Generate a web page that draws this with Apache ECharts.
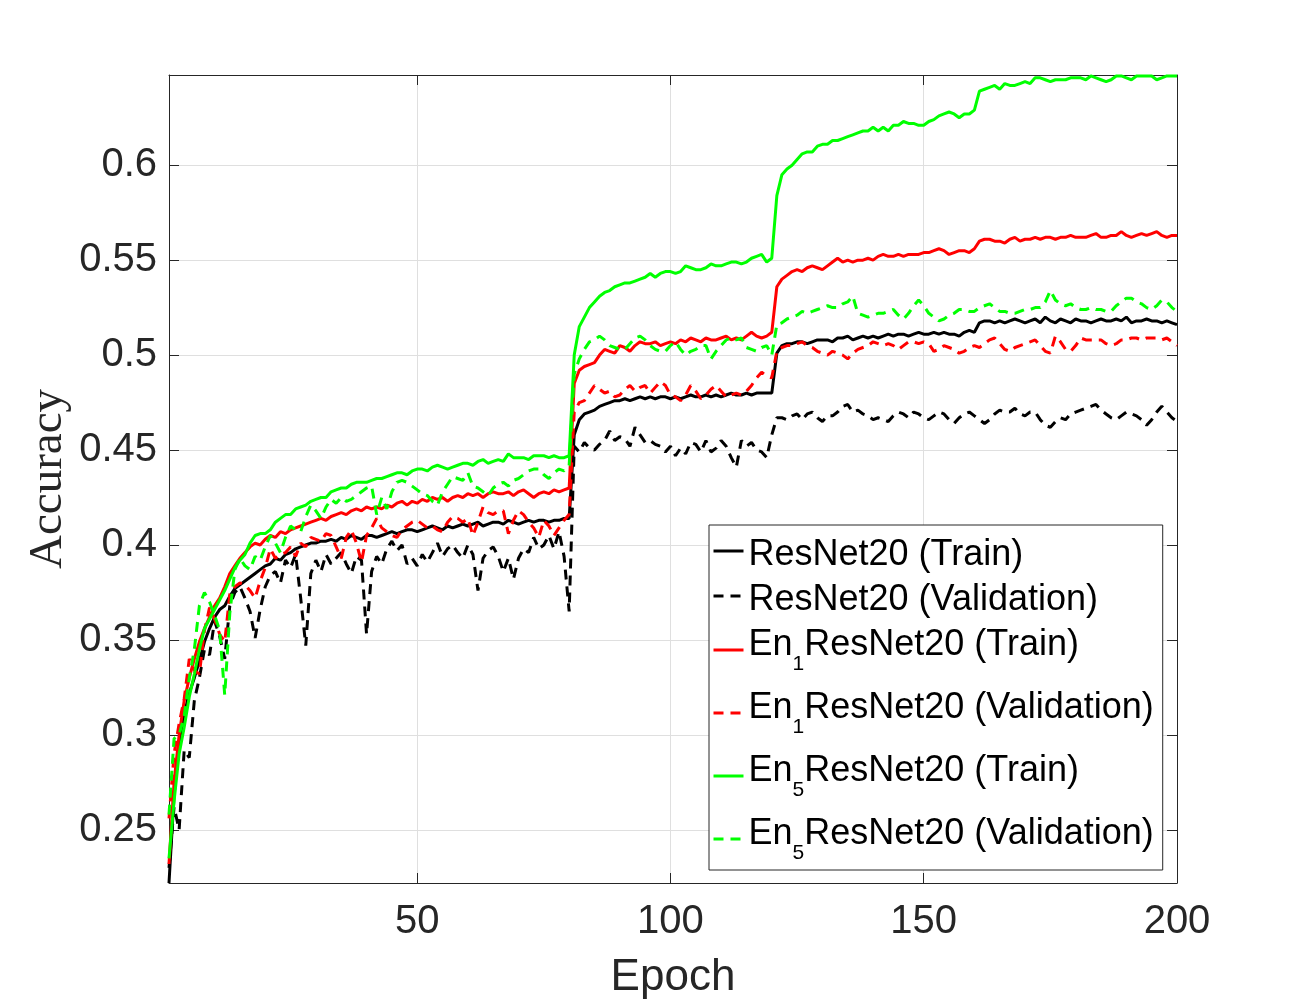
<!DOCTYPE html>
<html>
<head>
<meta charset="utf-8">
<title>Accuracy vs Epoch</title>
<script src="https://cdn.jsdelivr.net/npm/echarts@6/dist/echarts.min.js"></script>
<style>
  html, body { margin: 0; padding: 0; background: #fff; }
  #chart { width: 1300px; height: 1000px; }
</style>
</head>
<body>
<div id="chart"></div>
<script>
// accuracy per epoch (1..200)
const resnetTrain = [
  0.222,0.268,0.296,0.311,0.322,0.330,0.339,0.349,0.356,0.362,
  0.366,0.368,0.373,0.377,0.379,0.381,0.383,0.385,0.387,0.389,
  0.390,0.393,0.392,0.395,0.396,0.398,0.399,0.400,0.401,0.401,
  0.402,0.402,0.403,0.402,0.404,0.403,0.405,0.404,0.403,0.405,
  0.405,0.404,0.405,0.406,0.407,0.406,0.407,0.408,0.408,0.407,
  0.408,0.409,0.410,0.409,0.408,0.410,0.409,0.410,0.411,0.410,
  0.411,0.412,0.410,0.411,0.412,0.412,0.411,0.413,0.412,0.411,
  0.412,0.413,0.412,0.413,0.413,0.412,0.413,0.413,0.414,0.414,
  0.458,0.466,0.469,0.470,0.471,0.473,0.474,0.475,0.476,0.476,
  0.477,0.476,0.477,0.478,0.477,0.478,0.477,0.478,0.478,0.477,
  0.478,0.477,0.478,0.479,0.478,0.478,0.479,0.478,0.479,0.478,
  0.479,0.480,0.479,0.479,0.480,0.479,0.480,0.480,0.480,0.480,
  0.501,0.505,0.506,0.506,0.507,0.507,0.506,0.507,0.508,0.508,
  0.508,0.507,0.509,0.509,0.510,0.508,0.509,0.510,0.509,0.510,
  0.509,0.510,0.511,0.510,0.511,0.511,0.510,0.511,0.512,0.511,
  0.511,0.512,0.511,0.512,0.511,0.511,0.510,0.512,0.513,0.512,
  0.517,0.518,0.518,0.517,0.518,0.517,0.518,0.519,0.518,0.517,
  0.518,0.519,0.517,0.520,0.518,0.517,0.519,0.518,0.517,0.519,
  0.518,0.518,0.517,0.518,0.519,0.518,0.518,0.519,0.518,0.520,
  0.517,0.518,0.518,0.519,0.518,0.518,0.517,0.518,0.517,0.516
];
const resnetVal = [
  0.230,0.262,0.250,0.292,0.288,0.318,0.330,0.345,0.342,0.360,
  0.352,0.340,0.368,0.375,0.378,0.372,0.365,0.351,0.366,0.378,
  0.384,0.386,0.380,0.392,0.388,0.395,0.372,0.347,0.385,0.392,
  0.386,0.395,0.390,0.393,0.396,0.390,0.385,0.394,0.392,0.353,
  0.386,0.394,0.390,0.398,0.402,0.397,0.400,0.390,0.393,0.389,
  0.395,0.391,0.396,0.401,0.394,0.398,0.400,0.396,0.393,0.400,
  0.395,0.376,0.393,0.397,0.399,0.394,0.386,0.393,0.382,0.393,
  0.398,0.396,0.404,0.398,0.400,0.405,0.398,0.407,0.394,0.365,
  0.452,0.449,0.454,0.451,0.450,0.453,0.455,0.460,0.455,0.457,
  0.456,0.452,0.462,0.458,0.454,0.455,0.453,0.452,0.449,0.452,
  0.447,0.451,0.448,0.454,0.453,0.449,0.455,0.449,0.451,0.455,
  0.452,0.446,0.441,0.455,0.452,0.454,0.450,0.449,0.446,0.458,
  0.467,0.467,0.466,0.468,0.469,0.466,0.469,0.470,0.467,0.465,
  0.468,0.468,0.470,0.473,0.474,0.470,0.471,0.469,0.468,0.466,
  0.467,0.466,0.465,0.468,0.470,0.469,0.467,0.470,0.469,0.467,
  0.466,0.468,0.470,0.469,0.466,0.464,0.467,0.469,0.470,0.468,
  0.466,0.464,0.466,0.469,0.471,0.470,0.470,0.472,0.469,0.468,
  0.470,0.470,0.466,0.463,0.462,0.465,0.467,0.466,0.469,0.470,
  0.471,0.472,0.473,0.474,0.471,0.469,0.467,0.466,0.468,0.470,
  0.469,0.468,0.466,0.463,0.466,0.470,0.473,0.470,0.467,0.465
];
const en1Train = [
  0.232,0.275,0.300,0.318,0.330,0.340,0.349,0.356,0.362,0.368,
  0.372,0.378,0.385,0.389,0.393,0.396,0.399,0.401,0.400,0.403,
  0.405,0.404,0.407,0.406,0.408,0.409,0.410,0.411,0.412,0.413,
  0.414,0.413,0.415,0.416,0.417,0.416,0.418,0.419,0.418,0.420,
  0.419,0.420,0.419,0.421,0.420,0.422,0.423,0.421,0.423,0.422,
  0.424,0.423,0.425,0.424,0.425,0.423,0.425,0.426,0.425,0.427,
  0.426,0.427,0.425,0.427,0.428,0.427,0.427,0.428,0.426,0.428,
  0.429,0.427,0.425,0.427,0.428,0.427,0.429,0.428,0.429,0.430,
  0.485,0.492,0.494,0.495,0.496,0.500,0.503,0.502,0.501,0.505,
  0.504,0.502,0.505,0.507,0.506,0.506,0.507,0.505,0.506,0.507,
  0.506,0.508,0.507,0.509,0.508,0.507,0.509,0.508,0.508,0.509,
  0.510,0.508,0.509,0.508,0.510,0.512,0.510,0.509,0.510,0.512,
  0.536,0.540,0.542,0.544,0.545,0.544,0.546,0.547,0.546,0.545,
  0.547,0.549,0.551,0.549,0.550,0.549,0.550,0.550,0.551,0.550,
  0.552,0.553,0.552,0.552,0.553,0.552,0.553,0.553,0.553,0.554,
  0.554,0.555,0.556,0.555,0.553,0.554,0.555,0.555,0.554,0.556,
  0.560,0.561,0.561,0.560,0.560,0.559,0.561,0.562,0.560,0.561,
  0.561,0.562,0.561,0.562,0.562,0.561,0.562,0.562,0.563,0.562,
  0.562,0.562,0.563,0.564,0.562,0.562,0.563,0.563,0.565,0.563,
  0.562,0.563,0.564,0.563,0.564,0.565,0.563,0.562,0.563,0.563
];
const en1Val = [
  0.256,0.290,0.306,0.319,0.340,0.334,0.332,0.355,0.367,0.361,
  0.353,0.349,0.374,0.378,0.380,0.379,0.376,0.372,0.381,0.388,
  0.398,0.393,0.395,0.396,0.399,0.394,0.401,0.399,0.404,0.403,
  0.402,0.406,0.405,0.399,0.393,0.404,0.408,0.401,0.391,0.405,
  0.409,0.414,0.409,0.407,0.405,0.404,0.408,0.410,0.412,0.413,
  0.411,0.409,0.410,0.408,0.407,0.412,0.415,0.414,0.412,0.414,
  0.405,0.412,0.420,0.417,0.416,0.418,0.418,0.406,0.413,0.418,
  0.416,0.412,0.409,0.404,0.413,0.410,0.405,0.409,0.413,0.416,
  0.470,0.475,0.476,0.480,0.484,0.482,0.480,0.481,0.478,0.479,
  0.482,0.484,0.481,0.483,0.484,0.480,0.483,0.486,0.484,0.479,
  0.478,0.476,0.479,0.484,0.481,0.477,0.479,0.482,0.484,0.481,
  0.478,0.479,0.480,0.479,0.481,0.484,0.488,0.491,0.489,0.488,
  0.502,0.504,0.505,0.505,0.506,0.507,0.505,0.504,0.502,0.501,
  0.500,0.502,0.501,0.500,0.498,0.501,0.503,0.504,0.505,0.507,
  0.506,0.505,0.506,0.505,0.503,0.505,0.507,0.507,0.506,0.507,
  0.506,0.502,0.503,0.505,0.504,0.503,0.501,0.502,0.504,0.505,
  0.504,0.506,0.508,0.509,0.506,0.503,0.502,0.504,0.505,0.506,
  0.507,0.508,0.505,0.502,0.501,0.510,0.507,0.503,0.502,0.505,
  0.509,0.508,0.508,0.508,0.508,0.506,0.505,0.506,0.508,0.508,
  0.509,0.509,0.508,0.509,0.509,0.509,0.508,0.509,0.507,0.505
];
const en5Train = [
  0.235,0.265,0.290,0.304,0.320,0.332,0.345,0.356,0.361,0.366,
  0.371,0.376,0.382,0.388,0.392,0.395,0.401,0.405,0.406,0.406,
  0.408,0.412,0.414,0.416,0.416,0.419,0.420,0.421,0.423,0.424,
  0.425,0.425,0.428,0.429,0.430,0.430,0.432,0.433,0.433,0.433,
  0.434,0.435,0.435,0.436,0.437,0.438,0.438,0.437,0.439,0.440,
  0.440,0.439,0.441,0.442,0.441,0.440,0.441,0.442,0.443,0.443,
  0.442,0.444,0.445,0.443,0.444,0.445,0.444,0.448,0.446,0.446,
  0.446,0.445,0.447,0.447,0.447,0.446,0.447,0.446,0.446,0.447,
  0.500,0.515,0.520,0.525,0.528,0.531,0.533,0.534,0.536,0.537,
  0.538,0.538,0.539,0.540,0.541,0.543,0.541,0.543,0.544,0.544,
  0.543,0.544,0.547,0.546,0.545,0.545,0.546,0.548,0.547,0.547,
  0.548,0.549,0.549,0.548,0.549,0.551,0.552,0.553,0.549,0.551,
  0.584,0.595,0.598,0.600,0.603,0.606,0.607,0.607,0.610,0.611,
  0.611,0.613,0.613,0.614,0.615,0.616,0.617,0.618,0.618,0.620,
  0.618,0.620,0.618,0.621,0.621,0.623,0.622,0.622,0.621,0.621,
  0.623,0.624,0.626,0.627,0.628,0.627,0.625,0.627,0.627,0.629,
  0.639,0.640,0.641,0.642,0.640,0.643,0.642,0.642,0.643,0.644,
  0.643,0.646,0.646,0.645,0.644,0.645,0.645,0.645,0.646,0.646,
  0.646,0.645,0.647,0.646,0.645,0.644,0.645,0.647,0.647,0.646,
  0.645,0.647,0.647,0.647,0.647,0.645,0.646,0.647,0.647,0.647
];
const en5Val = [
  0.258,0.298,0.300,0.310,0.330,0.345,0.368,0.375,0.370,0.363,
  0.355,0.321,0.364,0.387,0.393,0.389,0.387,0.394,0.392,0.399,
  0.405,0.401,0.396,0.404,0.410,0.408,0.407,0.415,0.421,0.418,
  0.414,0.420,0.424,0.422,0.425,0.423,0.424,0.426,0.428,0.430,
  0.431,0.416,0.425,0.419,0.428,0.433,0.434,0.433,0.431,0.429,
  0.427,0.426,0.423,0.421,0.428,0.432,0.436,0.435,0.434,0.438,
  0.431,0.430,0.428,0.426,0.430,0.432,0.433,0.431,0.434,0.435,
  0.437,0.439,0.440,0.440,0.437,0.435,0.438,0.440,0.439,0.442,
  0.490,0.498,0.503,0.507,0.508,0.510,0.508,0.505,0.504,0.503,
  0.503,0.506,0.509,0.510,0.508,0.505,0.503,0.502,0.502,0.505,
  0.507,0.503,0.500,0.502,0.503,0.505,0.505,0.498,0.502,0.505,
  0.508,0.509,0.508,0.509,0.504,0.503,0.502,0.504,0.505,0.500,
  0.516,0.517,0.519,0.520,0.521,0.523,0.522,0.523,0.524,0.525,
  0.526,0.525,0.525,0.527,0.528,0.531,0.522,0.521,0.520,0.521,
  0.522,0.522,0.523,0.524,0.521,0.519,0.522,0.526,0.529,0.526,
  0.522,0.520,0.518,0.519,0.521,0.522,0.524,0.524,0.523,0.523,
  0.525,0.526,0.527,0.525,0.523,0.523,0.522,0.522,0.523,0.524,
  0.524,0.525,0.525,0.528,0.534,0.529,0.527,0.526,0.527,0.525,
  0.524,0.524,0.525,0.524,0.524,0.523,0.523,0.526,0.528,0.530,
  0.530,0.528,0.527,0.525,0.524,0.526,0.529,0.528,0.525,0.523
];

const seriesNames = [
  'ResNet20 (Train)', 'ResNet20 (Validation)',
  'En1ResNet20 (Train)', 'En1ResNet20 (Validation)',
  'En5ResNet20 (Train)', 'En5ResNet20 (Validation)'
];
const seriesValues = [resnetTrain, resnetVal, en1Train, en1Val, en5Train, en5Val];
const seriesColors = ['#000000', '#000000', '#ff0000', '#ff0000', '#00ff00', '#00ff00'];

const xTicks = [50, 100, 150, 200];
const yTicks = [0.25, 0.3, 0.35, 0.4, 0.45, 0.5, 0.55, 0.6];

const SANS = '"Liberation Sans", Arial, Helvetica, sans-serif';
const SERIF = '"Liberation Serif", "Times New Roman", serif';
const AXIS_COLOR = '#262626';
const CLEAR = 'rgba(255,255,255,0)';

function legendLabel(name) {
  // "En1ResNet20 ..." -> En with subscript 1
  const m = name.match(/^En(\d)(.*)$/);
  if (m) return '{m|En}{s|' + m[1] + '}{m|' + m[2] + '}';
  return '{m|' + name + '}';
}

const series = seriesNames.map((name, i) => ({
  name: name,
  type: 'line',
  data: seriesValues[i].map((v, k) => [k + 1, v]),
  showSymbol: false,
  symbol: 'none',
  clip: true,
  lineStyle: {
    color: seriesColors[i],
    width: 3,
    type: i % 2 === 1 ? [10, 7] : 'solid'
  },
  itemStyle: { color: seriesColors[i] }
}));

const chart = echarts.init(document.getElementById('chart'), null, { renderer: 'canvas' });

chart.setOption({
  animation: false,
  backgroundColor: '#ffffff',
  grid: {
    left: 169, right: 123, top: 75, bottom: 117,
    outerBoundsMode: 'none'
  },
  legend: {
    data: seriesNames,
    orient: 'vertical',
    left: 709, top: 525,
    itemWidth: 30, itemHeight: 14, itemGap: 1,
    padding: [4, 9, 0, 3],
    backgroundColor: '#ffffff',
    borderColor: AXIS_COLOR,
    borderWidth: 1,
    borderRadius: 0,
    selectedMode: false,
    formatter: legendLabel,
    itemStyle: { opacity: 0, borderWidth: 0 },
    lineStyle: { width: 3 },
    textStyle: {
      fontFamily: SANS,
      fontSize: 36,
      color: '#000',
      rich: {
        // transparent backgrounds make the padded boxes count for row height
        m: { fontFamily: SANS, fontSize: 36, verticalAlign: 'top', padding: [8, 0, 0, 0], backgroundColor: CLEAR, color: '#000' },
        s: { fontFamily: SANS, fontSize: 21, verticalAlign: 'top', padding: [35, 0, 6, 0], backgroundColor: CLEAR, color: '#000' }
      }
    }
  },
  xAxis: [
    {
      type: 'value', min: 1, max: 200, position: 'bottom',
      name: 'Epoch', nameLocation: 'middle', nameGap: 73, nameMoveOverlap: false,
      nameTextStyle: { fontFamily: SANS, fontSize: 44, color: AXIS_COLOR },
      axisLine: { onZero: false, lineStyle: { color: AXIS_COLOR, width: 1 } },
      axisTick: { inside: true, length: 10, customValues: xTicks, lineStyle: { color: AXIS_COLOR } },
      axisLabel: { customValues: xTicks, margin: 19, fontFamily: SANS, fontSize: 40, color: AXIS_COLOR },
      splitLine: { show: true, lineStyle: { color: '#dfdfdf', width: 1 } }
    },
    {
      type: 'value', min: 1, max: 200, position: 'top',
      axisLine: { onZero: false, lineStyle: { color: AXIS_COLOR, width: 1 } },
      axisTick: { inside: true, length: 10, customValues: xTicks, lineStyle: { color: AXIS_COLOR } },
      axisLabel: { show: false },
      splitLine: { show: false }
    }
  ],
  yAxis: [
    {
      type: 'value', min: 0.222, max: 0.6475, position: 'left',
      name: 'Accuracy', nameLocation: 'middle', nameGap: 97, nameMoveOverlap: false,
      nameTextStyle: { fontFamily: SERIF, fontSize: 47, color: AXIS_COLOR },
      axisLine: { show: true, onZero: false, lineStyle: { color: AXIS_COLOR, width: 1 } },
      axisTick: { show: true, inside: true, length: 10, customValues: yTicks, lineStyle: { color: AXIS_COLOR } },
      axisLabel: { customValues: yTicks, margin: 12, fontFamily: SANS, fontSize: 40, color: AXIS_COLOR },
      splitLine: { show: true, lineStyle: { color: '#dfdfdf', width: 1 } }
    },
    {
      type: 'value', min: 0.222, max: 0.6475, position: 'right',
      axisLine: { show: true, onZero: false, lineStyle: { color: AXIS_COLOR, width: 1 } },
      axisTick: { show: true, inside: true, length: 10, customValues: yTicks, lineStyle: { color: AXIS_COLOR } },
      axisLabel: { show: false },
      splitLine: { show: false }
    }
  ],
  series: series
});
</script>
</body>
</html>
